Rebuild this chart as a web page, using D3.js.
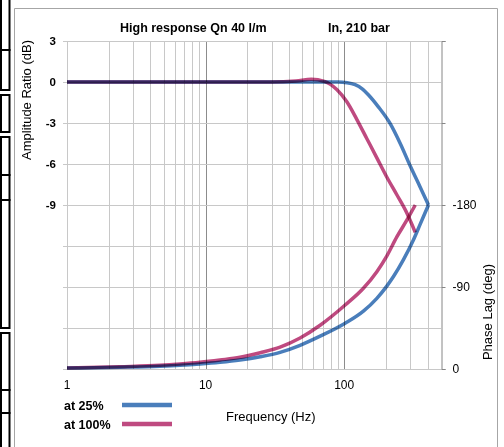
<!DOCTYPE html>
<html><head><meta charset="utf-8">
<script src="https://cdn.jsdelivr.net/npm/d3@7"></script>
<style>
html,body{margin:0;padding:0;background:#fff;}
svg{display:block;font-family:"Liberation Sans",Arial,sans-serif;}
</style></head>
<body>
<svg id="c" width="504" height="447"></svg>
<script>
// ---- data ----
const freqAmp25 = [1, 10, 50, 90, 105, 120, 135, 150, 176, 215, 254, 300, 354, 406];
const amp25     = [0, 0, 0, 0, -0.05, -0.2, -0.5, -0.95, -1.8, -3.05, -4.5, -6.15, -7.7, -9.0];
const freqAmp100 = [1, 10, 30, 45, 58, 72, 88.5, 104.6, 123.6, 145.9, 172.2, 203, 240, 284, 326];
const amp100     = [0, 0, 0, 0.08, 0.2, 0.05, -0.55, -1.45, -2.75, -4.15, -5.55, -6.95, -8.25, -9.6, -11.0];
const freqPh25 = [1, 2.41, 4.69, 6.54, 9.12, 12.7, 17.7, 24.8, 34.5, 48.1, 67.1, 101.7, 137.7, 172.2, 203.2, 227, 268, 316, 354, 406];
const phase25  = [-1, -1.9, -3, -4, -5.5, -7.4, -9.9, -13.5, -18.3, -26, -36, -50.2, -63.5, -77.6, -91, -101.5, -120, -141.6, -159, -180];
const freqPh100 = [1, 2.41, 4.69, 6.54, 9.12, 12.7, 17.7, 24.8, 34.5, 48.1, 67.1, 101.7, 137.7, 172.2, 203, 240, 284, 326];
const phase100  = [-1, -2.5, -4, -5.5, -7.4, -9.9, -12.8, -17.9, -24, -34, -48, -70.2, -88.6, -106.8, -124, -145, -163.6, -180];
const xTickLabels = [1, 10, 100];
const ampTicks = [3, 0, -3, -6, -9];
const phaseTicks = [0, -90, -180];
const seriesNames = ["at 25%", "at 100%"];
const titleParts = ["High response Qn 40 l/m", "In, 210 bar"];

// ---- layout ----
const L = 67, R = 441, T = 41, B = 369;
const blue = "#4a7ebb", pink = "#bf4a80";
const svg = d3.select("#c");

// page artefacts (left frame boxes) and chart border
const boxes = [[-2,50],[50,90],[95,132],[137,175],[175,200],[200,328],[333,390],[390,413],[413,450]];
svg.selectAll("rect.bx").data(boxes).join("rect").attr("class","bx")
  .attr("x",1).attr("y",d=>d[0]).attr("width",8.5).attr("height",d=>d[1]-d[0])
  .attr("fill","none").attr("stroke","#000").attr("stroke-width",2);
svg.append("path").attr("d","M14.5,447 V8.5 H497.5 V447").attr("fill","none").attr("stroke","#a6a6a6").attr("stroke-width",1);

const x = d3.scaleLog().domain([1,500]).range([L,R]);
const yA = d3.scaleLinear().domain([-21,3]).range([B,T]);
const yP = d3.scaleLinear().domain([0,-360]).range([B,T]);

// grid
const vgrid = [];
for (let dec of [1,10,100]) for (let k=1;k<=9;k++){ const v=dec*k; if(v<500) vgrid.push(v); }
const g = svg.append("g");
g.selectAll("line.v").data(vgrid).join("line")
  .attr("x1",d=>Math.round(x(d))+0.5).attr("x2",d=>Math.round(x(d))+0.5)
  .attr("y1",T).attr("y2",B)
  .attr("stroke",d=>(d===10||d===100)?"#8c8c8c":"#c8c8c8").attr("stroke-width",1);
const hgrid = d3.range(-21,3.1,3);
g.selectAll("line.h").data(hgrid).join("line")
  .attr("x1",L-4).attr("x2",R)
  .attr("y1",d=>Math.round(yA(d))+0.5).attr("y2",d=>Math.round(yA(d))+0.5)
  .attr("stroke","#c8c8c8").attr("stroke-width",1);

// right axis
const ra = svg.append("g").attr("transform",`translate(${R+0.5},0)`)
  .call(d3.axisRight(yP).tickValues([0,-90,-180,-270,-360]).tickSize(4).tickSizeOuter(4).tickFormat(d=>phaseTicks.includes(d)?d:""));
ra.select(".domain").attr("stroke","#868686");
ra.selectAll(".tick line").attr("stroke","#868686");
ra.selectAll(".tick text").attr("x",11).attr("font-size",12).attr("fill","#000").attr("font-family","Liberation Sans, Arial, sans-serif");

// left tick labels
svg.selectAll("text.ya").data(ampTicks).join("text")
  .attr("x",56).attr("y",d=>yA(d)+4).attr("text-anchor","end")
  .attr("font-size",11.5).attr("font-weight","bold").text(d=>d);
// x tick labels
svg.selectAll("text.xa").data(xTickLabels).join("text")
  .attr("x",d=>x(d)).attr("y",389).attr("text-anchor","middle")
  .attr("font-size",12).text(d=>d);

// lines
const line = (fx, fy, ys) => d3.line().x((d,i)=>x(fx[i])).y((d,i)=>ys(fy[i])).curve(d3.curveMonotoneX);
const draw = (fx, fy, ys, col) => svg.append("path").datum(fx)
  .attr("d", line(fx,fy,ys)).attr("fill","none").attr("stroke",col)
  .attr("stroke-width",3.5).attr("stroke-linejoin","round").style("mix-blend-mode","multiply");
draw(freqAmp25, amp25, yA, blue);
draw(freqPh25, phase25, yP, blue);
draw(freqAmp100, amp100, yA, pink);
draw(freqPh100, phase100, yP, pink);

// titles
svg.append("text").attr("x",120).attr("y",32).attr("font-size",12.5).attr("font-weight","bold").text(titleParts[0]);
svg.append("text").attr("x",328).attr("y",32).attr("font-size",12.5).attr("font-weight","bold").text(titleParts[1]);
svg.append("text").attr("transform","translate(31,100) rotate(-90)").attr("text-anchor","middle")
  .attr("font-size",13).text("Amplitude Ratio (dB)");
svg.append("text").attr("transform","translate(492,312) rotate(-90)").attr("text-anchor","middle")
  .attr("font-size",13).text("Phase Lag (deg)");
svg.append("text").attr("x",226).attr("y",421).attr("font-size",13).text("Frequency (Hz)");

// legend
const lg = svg.selectAll("g.lg").data(seriesNames).join("g").attr("class","lg")
  .attr("transform",(d,i)=>`translate(0,${i===0?405:424})`);
lg.append("text").attr("x",64).attr("y",5).attr("font-size",12.5).attr("font-weight","bold").text(d=>d);
lg.append("line").attr("x1",122).attr("x2",172).attr("stroke",(d,i)=>i===0?blue:pink).attr("stroke-width",4.5);
</script>
</body></html>
